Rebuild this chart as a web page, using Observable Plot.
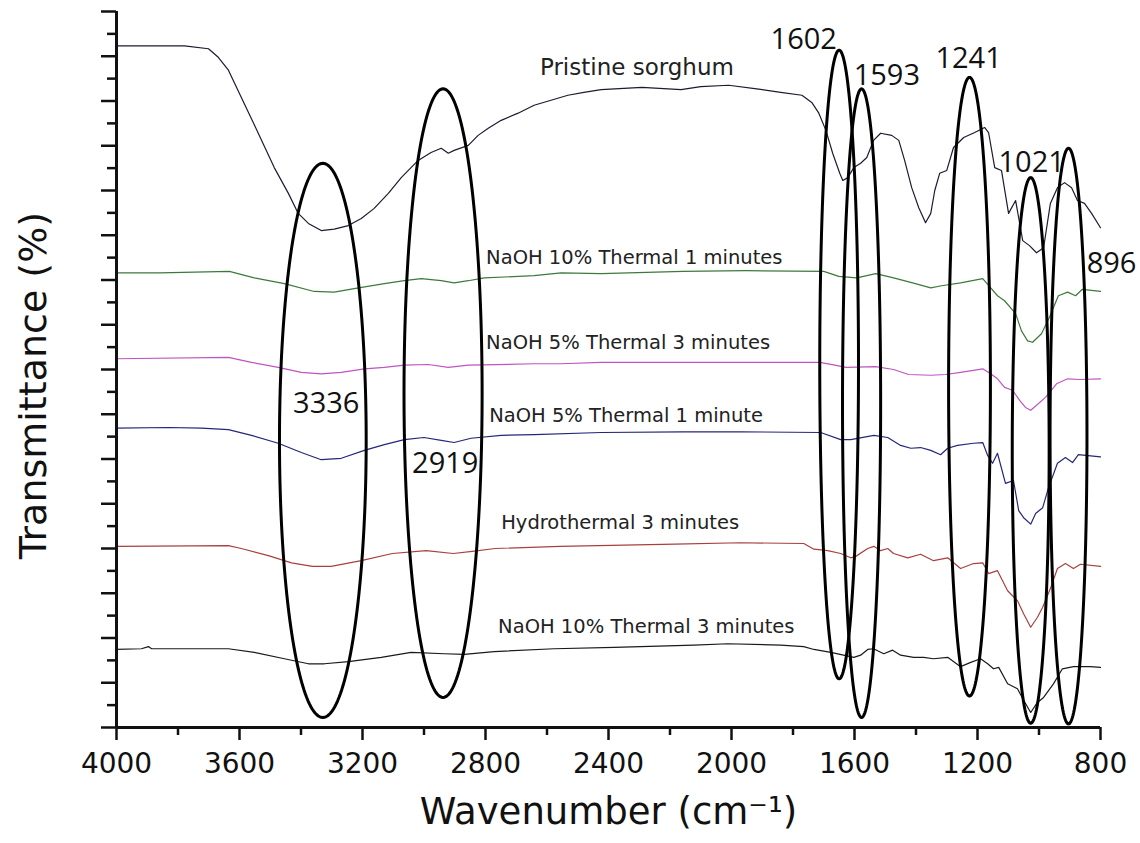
<!DOCTYPE html>
<html><head><meta charset="utf-8">
<script src="https://cdn.jsdelivr.net/npm/d3@7"></script>
<script src="https://cdn.jsdelivr.net/npm/@observablehq/plot@0.6"></script>
<style>body{margin:0;background:#fff;} svg{display:block;}</style>
</head><body><div id="chart"></div>
<script>
// ---- data: [wavenumber (cm-1), transmittance (offset, a.u. %)] ----
const pristine = [[4000,95.2],[3779,95.2],[3701,94.8],[3669,93.6],[3636,91.8],[3594,88.0],[3539,83.0],[3487,78.2],[3441,74.6],[3409,71.8],[3376,70.4],[3334,69.4],[3292,69.6],[3246,70.1],[3204,71.1],[3162,72.5],[3116,74.6],[3074,76.8],[3019,79.2],[2977,80.3],[2944,80.9],[2921,80.2],[2902,80.6],[2856,81.3],[2824,82.7],[2791,83.7],[2749,84.8],[2694,85.8],[2642,86.9],[2587,87.6],[2532,88.3],[2480,88.7],[2424,89.1],[2291,89.4],[2164,89.1],[2100,89.5],[2009,89.7],[1918,89.2],[1840,88.7],[1771,88.3],[1739,87.3],[1716,85.8],[1693,83.4],[1671,80.2],[1648,77.4],[1638,76.4],[1622,76.8],[1602,78.2],[1580,78.8],[1560,79.6],[1538,82.0],[1515,83.0],[1479,82.7],[1456,82.0],[1437,79.2],[1414,75.4],[1391,72.6],[1369,70.5],[1352,71.8],[1339,75.0],[1323,77.4],[1300,77.8],[1278,81.0],[1245,82.4],[1209,83.1],[1177,83.8],[1164,83.1],[1144,78.2],[1122,77.8],[1099,71.8],[1076,73.6],[1053,68.0],[1031,67.3],[1008,66.3],[985,67.0],[963,73.2],[940,75.4],[917,76.1],[894,75.4],[875,73.6],[852,73.2],[829,71.8],[800,69.8]];
const naoh10t1 = [[4000,63.5],[3860,63.5],[3633,63.7],[3552,62.8],[3454,62.0],[3357,60.9],[3292,60.8],[3227,61.3],[3129,62.0],[3064,62.4],[3009,62.7],[2944,62.4],[2902,62.1],[2856,62.4],[2804,62.8],[2642,63.1],[2554,63.5],[2424,63.4],[2158,63.7],[1953,63.8],[1700,63.7],[1651,63.0],[1593,62.8],[1531,63.4],[1473,62.8],[1411,62.1],[1352,61.4],[1317,61.7],[1255,62.1],[1183,62.7],[1157,61.4],[1135,60.3],[1112,59.6],[1076,57.8],[1057,55.4],[1037,54.0],[1021,53.8],[992,55.0],[966,57.3],[937,60.3],[907,60.8],[881,60.3],[859,61.2],[800,60.9]];
const naoh5t3 = [[4000,51.5],[3636,51.7],[3561,51.0],[3474,50.3],[3399,49.6],[3334,49.4],[3269,49.6],[3194,50.1],[3129,50.3],[3064,50.6],[2986,50.7],[2921,50.3],[2856,50.6],[2642,50.8],[2554,50.8],[2424,51.0],[2194,51.0],[1953,51.0],[1713,51.0],[1664,50.6],[1628,50.3],[1531,50.4],[1473,50.0],[1424,49.3],[1352,49.2],[1304,49.3],[1255,49.6],[1183,50.1],[1157,49.4],[1135,48.7],[1112,47.5],[1086,47.1],[1063,45.7],[1044,44.7],[1027,44.3],[1008,45.0],[979,46.1],[943,48.0],[907,48.7],[868,48.6],[800,48.7]];
const naoh5t1 = [[4000,41.8],[3831,41.9],[3724,41.8],[3636,41.6],[3561,40.8],[3474,39.7],[3399,38.4],[3334,37.4],[3269,37.6],[3194,38.7],[3129,39.5],[3064,40.2],[3000,40.5],[2944,40.1],[2902,39.8],[2847,40.4],[2749,40.8],[2642,40.9],[2424,41.2],[2158,41.3],[1970,41.3],[1710,41.2],[1645,40.2],[1612,40.2],[1537,40.8],[1492,40.5],[1450,39.4],[1417,39.0],[1385,39.1],[1352,38.7],[1320,38.1],[1297,39.0],[1265,39.4],[1213,39.7],[1183,39.8],[1167,38.0],[1151,36.9],[1135,38.3],[1109,34.1],[1083,34.5],[1066,30.3],[1050,29.3],[1027,28.4],[1011,29.9],[988,30.7],[969,33.5],[940,36.9],[914,37.7],[891,37.0],[872,38.1],[800,37.8]];
const hydro3 = [[4000,25.3],[3636,25.4],[3594,25.0],[3506,24.0],[3431,23.0],[3363,22.5],[3302,22.5],[3204,23.3],[3103,24.3],[2993,24.7],[2905,24.3],[2843,24.6],[2769,25.0],[2558,25.3],[2184,25.6],[1970,25.8],[1765,25.7],[1732,24.9],[1687,24.7],[1645,24.3],[1612,23.7],[1596,23.9],[1557,25.0],[1537,25.3],[1515,24.7],[1492,25.0],[1473,24.3],[1427,23.7],[1385,24.2],[1343,23.3],[1297,23.7],[1255,22.2],[1213,22.9],[1183,23.0],[1164,21.5],[1135,21.9],[1102,19.1],[1070,17.7],[1050,15.9],[1027,14.0],[1005,15.4],[988,16.8],[963,19.4],[940,22.2],[914,22.9],[888,22.2],[865,22.8],[800,22.5]];
const naoh10t3 = [[4000,10.9],[3919,11.0],[3896,11.3],[3886,11.0],[3636,11.0],[3552,10.5],[3454,9.6],[3376,8.9],[3324,8.9],[3246,9.2],[3139,9.8],[3042,10.5],[2934,10.3],[2869,10.2],[2772,10.6],[2577,11.0],[2382,11.2],[2122,11.5],[2012,11.7],[1840,11.5],[1765,11.3],[1732,10.9],[1677,10.5],[1602,9.8],[1580,10.1],[1557,10.9],[1538,11.0],[1505,10.3],[1476,10.8],[1450,10.1],[1408,9.8],[1375,9.8],[1343,9.6],[1297,9.8],[1255,8.5],[1222,9.1],[1190,9.6],[1167,8.9],[1148,8.2],[1131,8.4],[1102,6.1],[1070,5.4],[1050,3.8],[1027,2.1],[1005,3.5],[985,4.2],[953,6.1],[924,8.2],[888,8.5],[833,8.5],[800,8.4]];

const seriesNames = ["Pristine sorghum","NaOH 10% Thermal 1 minutes","NaOH 5% Thermal 3 minutes","NaOH 5% Thermal 1 minute","Hydrothermal 3 minutes","NaOH 10% Thermal 3 minutes"];
const seriesColors = ["#1c1c30","#3c7a3c","#c055c0","#26267a","#a84040","#1a1a1a"];
const seriesData = [pristine, naoh10t1, naoh5t3, naoh5t1, hydro3, naoh10t3];
// label anchor (left start) per series: wavenumber, transmittance
const labelWn = [2623, 2798, 2798, 2788, 2749, 2759];
const labelT  = [92.2, 65.6, 53.8, 43.6, 28.6, 14.1];

// peak annotations: label text, label position, ellipse centre and radii
const peakLabels = ["3336","2919","1602","1593","1241","1021","896"];
const peakLabelWn = [3318, 2931, 1765, 1495, 1229, 1024, 764];
const peakLabelT  = [45.2, 36.9, 96.1, 91.1, 93.4, 78.9, 64.8];
const ellWn  = [3329, 2938, 1650, 1577, 1226, 1027, 904];
const ellT   = [40.1, 46.7, 50.7, 45.3, 47.6, 38.7, 40.7];
const ellRWn = [141, 127, 63, 62, 68, 60, 60];
const ellRT  = [38.7, 42.5, 43.9, 43.9, 43.2, 38.1, 40.2];

const xMajor = [4000,3600,3200,2800,2400,2000,1600,1200,800];
const xMinor = [3800,3400,3000,2600,2200,1800,1400,1000];
const yAll = d3.range(0, 33).map(i => i * 100 / 32);
const yMajor = yAll.filter((d, i) => i % 2 === 0);
const yMinor = yAll.filter((d, i) => i % 2 === 1);

// ---- build tables ----
const lineRows = seriesData.flatMap((s, k) => s.map(([wn, t]) => ({wn, t, name: seriesNames[k]})));
const labelRows = seriesNames.map((name, k) => ({name, wn: labelWn[k], t: labelT[k]}));
const ellRows = peakLabels.flatMap((p, k) => d3.range(0, 361, 2).map(a => ({
  id: p,
  wn: ellWn[k] + ellRWn[k] * Math.cos(a * Math.PI / 180),
  t: ellT[k] + ellRT[k] * Math.sin(a * Math.PI / 180)
})));
const peakRows = peakLabels.map((p, k) => ({p, wn: peakLabelWn[k], t: peakLabelT[k]}));

const chart = Plot.plot({
  width: 1140, height: 843,
  marginLeft: 116, marginRight: 40, marginTop: 11, marginBottom: 116,
  x: {domain: [4000, 800], axis: null},
  y: {domain: [0, 100], axis: null},
  color: {domain: seriesNames, range: seriesColors},
  style: {fontFamily: "DejaVu Sans", background: "#fff", color: "#111", overflow: "visible"},
  marks: [
    Plot.line(lineRows, {x: "wn", y: "t", z: "name", stroke: "name", strokeWidth: 1.2}),
    Plot.line(ellRows, {x: "wn", y: "t", z: "id", stroke: "#000", strokeWidth: 3}),
    Plot.text(labelRows.slice(0, 1), {x: "wn", y: "t", text: "name", textAnchor: "start", fontSize: 23, fill: "#222"}),
    Plot.text(labelRows.slice(1), {x: "wn", y: "t", text: "name", textAnchor: "start", fontSize: 19.5, fill: "#222"}),
    Plot.text(peakRows, {x: "wn", y: "t", text: "p", fontFamily: "Open Sans", fontSize: 29, fill: "#111"}),
    Plot.axisX(xMajor, {anchor: "bottom", label: null, tickSize: 13, tickPadding: 13, strokeWidth: 2.5, fontSize: 28, tickFormat: d3.format("d")}),
    Plot.axisX(xMinor, {anchor: "bottom", label: null, tickSize: 8, strokeWidth: 2.5, tickFormat: () => ""}),
    Plot.axisY(yMajor, {anchor: "left", label: null, tickSize: 15, strokeWidth: 2.5, tickFormat: () => ""}),
    Plot.axisY(yMinor, {anchor: "left", label: null, tickSize: 9, strokeWidth: 2.5, tickFormat: () => ""}),
    Plot.ruleX([4000], {y1: 0, y2: 100, strokeWidth: 3}),
    Plot.ruleY([0], {strokeWidth: 3}),
    Plot.text(["Wavenumber (cm\u207B\u00B9)"], {frameAnchor: "bottom", lineAnchor: "bottom", dy: 96, fontSize: 37, fill: "#111"}),
    Plot.text(["Transmittance (%)"], {frameAnchor: "left", textAnchor: "middle", lineAnchor: "middle", rotate: -90, dx: -83, dy: 16, fontSize: 38, fill: "#111"})
  ]
});
document.getElementById("chart").appendChild(chart);
</script></body></html>
